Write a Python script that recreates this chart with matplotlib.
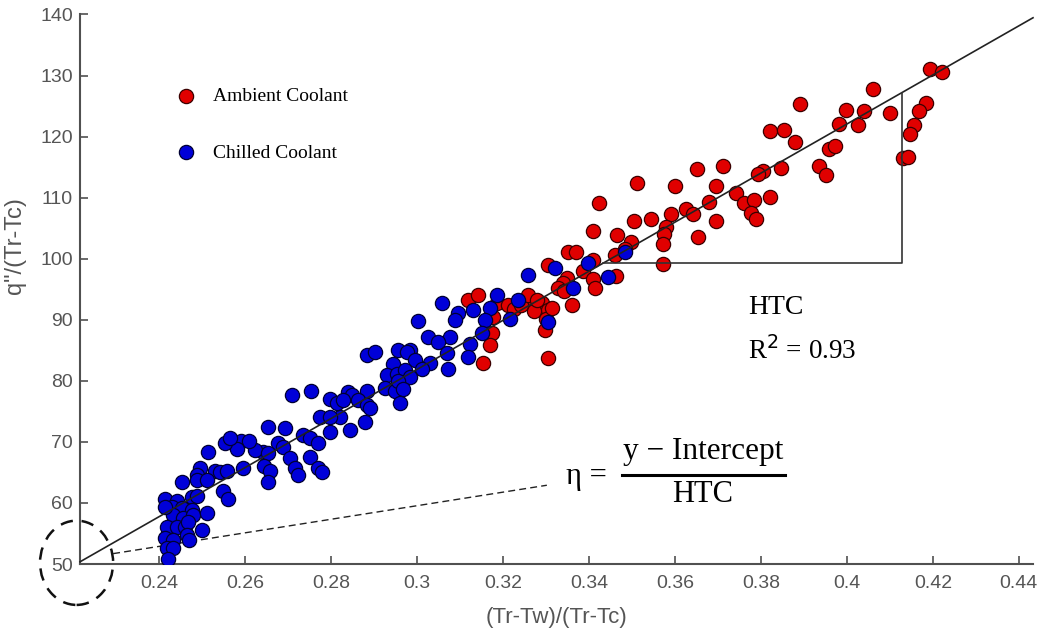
import matplotlib
matplotlib.use("Agg")
import matplotlib.pyplot as plt
from matplotlib.patches import Ellipse
import numpy as np

# Ambient coolant runs
ambient_x = [0.4193, 0.4221, 0.4060, 0.3891, 0.3998, 0.4040, 0.4100, 0.4184, 0.4167, 0.4156,
             0.4147, 0.4130, 0.4142, 0.3981, 0.4026, 0.3821, 0.3853, 0.3879, 0.3958, 0.3972,
             0.3935, 0.3951, 0.3847, 0.3805, 0.3793, 0.3821, 0.3651, 0.3712, 0.3512, 0.3600,
             0.3695, 0.3742, 0.3760, 0.3784, 0.3777, 0.3788, 0.3679, 0.3626, 0.3642, 0.3695,
             0.3423, 0.3544, 0.3505, 0.3591, 0.3579, 0.3574, 0.3572, 0.3572, 0.3653, 0.3409,
             0.3465, 0.3498, 0.3484, 0.3460, 0.3351, 0.3370, 0.3305, 0.3409, 0.3386, 0.3409,
             0.3414, 0.3463, 0.3349, 0.3340, 0.3328, 0.3342, 0.3360, 0.3291, 0.3305, 0.3260,
             0.3272, 0.3300, 0.3119, 0.3142, 0.3177, 0.3174, 0.3170, 0.3153, 0.3305, 0.3298,
             0.3186, 0.3212, 0.3226, 0.3242, 0.3258, 0.3279, 0.3314]
ambient_y = [131.1, 130.6, 127.8, 125.3, 124.3, 124.2, 123.9, 125.5, 124.2, 121.9,
             120.4, 116.5, 116.6, 122.0, 121.9, 120.9, 121.1, 119.1, 118.0, 118.4,
             115.2, 113.7, 114.8, 114.3, 113.9, 110.1, 114.7, 115.2, 112.4, 111.9,
             111.9, 110.7, 109.1, 109.6, 107.5, 106.5, 109.3, 108.1, 107.3, 106.1,
             109.1, 106.5, 106.1, 107.3, 105.2, 104.0, 102.4, 99.1, 103.5, 104.5,
             103.9, 102.7, 101.6, 100.6, 101.1, 101.1, 98.9, 99.8, 98.0, 96.6,
             95.2, 97.1, 96.8, 96.0, 95.2, 94.7, 92.4, 92.7, 91.6, 93.0,
             91.4, 90.1, 93.2, 94.0, 90.4, 87.8, 85.8, 83.0, 83.7, 88.3,
             92.7, 92.5, 91.7, 92.4, 94.0, 93.2, 92.0]

# Chilled coolant runs
chilled_x = [0.3484, 0.3444, 0.3398, 0.3321, 0.3258, 0.3363, 0.3186, 0.3235, 0.3130, 0.3170,
             0.3158, 0.3216, 0.3305, 0.3058, 0.3095, 0.3088, 0.3002, 0.3026, 0.3077, 0.3049,
             0.3123, 0.3151, 0.3070, 0.3119, 0.2984, 0.3072, 0.2884, 0.2902, 0.2956, 0.2977,
             0.2944, 0.3030, 0.2995, 0.3012, 0.2930, 0.2953, 0.2972, 0.2984, 0.2926, 0.2949,
             0.2956, 0.2967, 0.2960, 0.2884, 0.2840, 0.2849, 0.2798, 0.2863, 0.2884, 0.2891,
             0.2879, 0.2774, 0.2821, 0.2844, 0.2798, 0.2709, 0.2753, 0.2814, 0.2828, 0.2653,
             0.2693, 0.2735, 0.2751, 0.2770, 0.2677, 0.2688, 0.2642, 0.2623, 0.2653, 0.2590,
             0.2610, 0.2581, 0.2553, 0.2565, 0.2514, 0.2595, 0.2644, 0.2658, 0.2653, 0.2705,
             0.2751, 0.2716, 0.2723, 0.2770, 0.2779, 0.2495, 0.2530, 0.2542, 0.2558, 0.2488,
             0.2453, 0.2488, 0.2512, 0.2549, 0.2560, 0.2414, 0.2442, 0.2477, 0.2488, 0.2430,
             0.2453, 0.2477, 0.2433, 0.2456, 0.2479, 0.2512, 0.2419, 0.2442, 0.2460, 0.2467,
             0.2500, 0.2414, 0.2433, 0.2465, 0.2470, 0.2419, 0.2432, 0.2421, 0.2414, 0.2798]
chilled_y = [101.1, 97.0, 99.3, 98.4, 97.3, 95.2, 94.0, 93.2, 91.6, 91.9,
             89.9, 90.2, 89.6, 92.7, 91.1, 89.9, 89.8, 87.1, 87.1, 86.3,
             86.1, 87.8, 84.5, 83.9, 85.0, 82.0, 84.3, 84.7, 85.0, 84.7,
             82.7, 82.9, 83.4, 82.0, 80.9, 81.2, 81.7, 80.6, 78.9, 78.4,
             80.0, 78.7, 76.3, 78.4, 78.1, 77.6, 77.1, 76.8, 76.0, 75.5,
             73.2, 74.0, 74.0, 71.9, 71.6, 77.6, 78.3, 76.3, 76.8, 72.4,
             72.2, 71.1, 70.7, 69.8, 69.9, 69.1, 68.3, 68.6, 68.1, 70.2,
             70.2, 68.9, 69.9, 70.6, 68.3, 65.8, 66.1, 65.3, 63.4, 67.3,
             67.5, 65.8, 64.5, 65.7, 65.0, 65.8, 65.3, 65.0, 65.3, 64.5,
             63.4, 63.7, 63.7, 62.0, 60.7, 60.7, 60.4, 60.9, 61.2, 59.3,
             59.1, 58.8, 58.0, 57.6, 58.0, 58.3, 56.0, 56.0, 56.0, 56.8,
             55.5, 54.3, 53.9, 54.7, 54.0, 52.7, 52.7, 50.9, 59.3, 74.0]

# linear fit of the combined data
htc_slope = 401.9
htc_intercept = -38.7

x_min, x_max = 0.2216, 0.4433
y_min, y_max = 50, 140

fig = plt.figure(figsize=(10.38, 6.35), dpi=100)
ax = fig.add_axes([0.0771, 0.1118, 0.9181, 0.8654])
ax.set_xlim(x_min, x_max)
ax.set_ylim(y_min, y_max)

ax.scatter(ambient_x, ambient_y, s=105, c="#e00000", edgecolors="#3a0000",
           linewidths=0.9, zorder=3, label="Ambient Coolant")
ax.scatter(chilled_x, chilled_y, s=105, c="#0000d8", edgecolors="#000033",
           linewidths=0.9, zorder=3, label="Chilled Coolant")

# fit line across the whole axis
fx = np.array([x_min, x_max])
ax.plot(fx, htc_slope * fx + htc_intercept, color="#222222", lw=1.2, zorder=4,
        clip_on=False)

# slope triangle
tri_y0 = 99.3
tri_x1 = 0.4128
tri_x0 = (tri_y0 - htc_intercept) / htc_slope
ax.plot([tri_x0, tri_x1, tri_x1], [tri_y0, tri_y0, htc_slope * tri_x1 + htc_intercept],
        color="#333333", lw=1.2, zorder=4)

serif = ["Liberation Serif", "DejaVu Serif"]
ax.text(0.3770, 92.0, "HTC", fontsize=20, family=serif, va="center", ha="left")
ax.text(0.3770, 85.0, r"R$^{2}$ = 0.93", fontsize=19.5, family=serif, va="center", ha="left")

# efficiency definition
ax.text(0.3395, 64.3, "\u03b7 =", fontsize=22, family=serif, va="center", ha="center")
ax.text(0.3665, 68.4, "y \u2212 Intercept", fontsize=22.5, family=serif, va="center", ha="center")
ax.text(0.3665, 61.4, "HTC", fontsize=22, family=serif, va="center", ha="center")
ax.plot([0.3477, 0.3856], [64.5, 64.5], color="black", lw=2.2)

# pointer from intercept to the formula
ax.plot([0.2293, 0.3302], [51.7, 62.9], color="#222222", lw=1.0,
        linestyle=(0, (5, 3)), zorder=2)
ax.add_patch(Ellipse((0.2208, 50.2), 0.0170, 13.8, fill=False, edgecolor="#111111",
                     lw=1.8, linestyle=(0, (5, 3.5)), clip_on=False, zorder=5))

# axes styling
for side in ["top", "right"]:
    ax.spines[side].set_visible(False)
for side in ["left", "bottom"]:
    ax.spines[side].set_color("#505050")
    ax.spines[side].set_linewidth(1.5)

sans = ["Liberation Sans", "DejaVu Sans"]
ax.set_xticks(np.arange(0.24, 0.4401, 0.02))
ax.set_xticklabels(["0.24", "0.26", "0.28", "0.3", "0.32", "0.34", "0.36",
                    "0.38", "0.4", "0.42", "0.44"])
ax.set_yticks(np.arange(50, 141, 10))
ax.tick_params(direction="in", length=6, width=1.2, color="#505050",
               labelcolor="#555555", labelsize=14)
ax.tick_params(axis="x", pad=8)
ax.tick_params(axis="y", pad=5)
for lbl in ax.get_xticklabels() + ax.get_yticklabels():
    lbl.set_family(sans)

ax.set_xlabel("(Tr-Tw)/(Tr-Tc)", fontsize=16, color="#555555", family=sans, labelpad=11)
ax.set_ylabel("q\"/(Tr-Tc)", fontsize=17, color="#555555", family=sans)
ax.yaxis.set_label_coords(-0.057, 0.58)

ax.legend(loc="upper left", bbox_to_anchor=(0.091, 0.885), frameon=False,
          prop={"family": serif, "size": 14}, handlelength=1.0, handletextpad=0.9,
          labelspacing=2.0, borderpad=0, scatterpoints=1)

fig.savefig("out.png", dpi=100)
